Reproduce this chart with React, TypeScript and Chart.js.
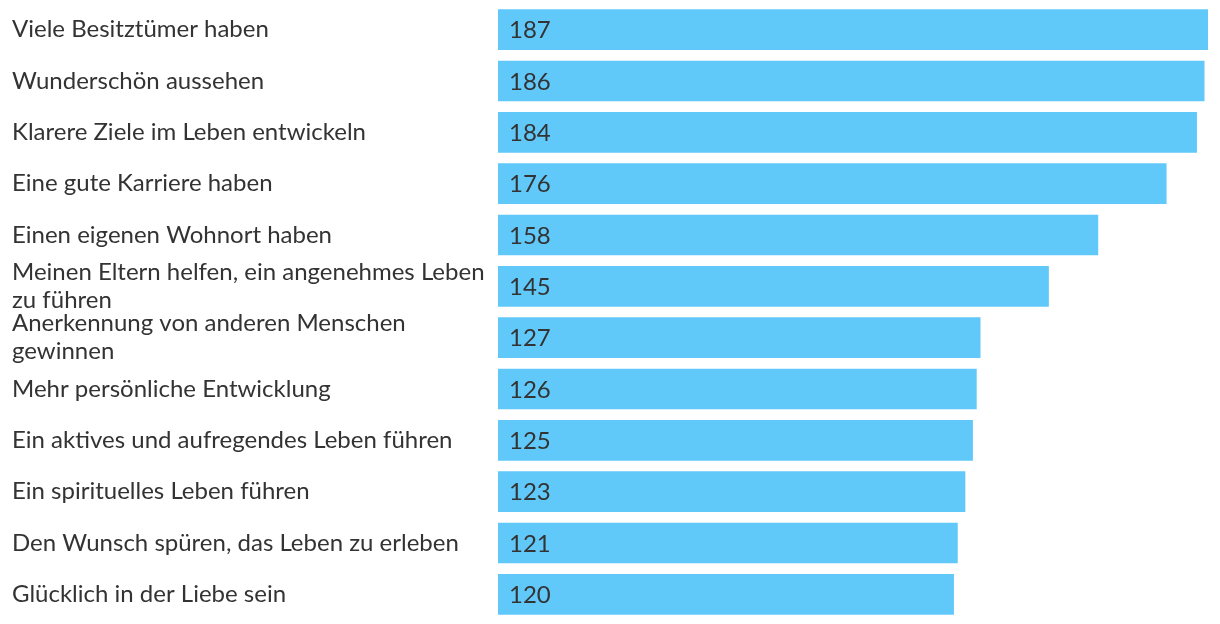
import React, { useEffect, useRef } from "react";
import { Chart, registerables } from "chart.js";

Chart.register(...registerables);

const categories: (string | string[])[] = [
  "Viele Besitztümer haben",
  "Wunderschön aussehen",
  "Klarere Ziele im Leben entwickeln",
  "Eine gute Karriere haben",
  "Einen eigenen Wohnort haben",
  ["Meinen Eltern helfen, ein angenehmes Leben", "zu führen"],
  ["Anerkennung von anderen Menschen", "gewinnen"],
  "Mehr persönliche Entwicklung",
  "Ein aktives und aufregendes Leben führen",
  "Ein spirituelles Leben führen",
  "Den Wunsch spüren, das Leben zu erleben",
  "Glücklich in der Liebe sein",
];

const values: number[] = [187, 186, 184, 176, 158, 145, 127, 126, 125, 123, 121, 120];

const BAR_COLOR = "#61C9FA";
const TEXT_COLOR = "#333333";
const FONT_FAMILY = "Lato, 'Open Sans', sans-serif";

const valueLabelPlugin = {
  id: "valueLabels",
  afterDatasetsDraw(chart: any) {
    const ctx = chart.ctx;
    const meta = chart.getDatasetMeta(0);
    ctx.save();
    ctx.font = `24px ${FONT_FAMILY}`;
    ctx.fillStyle = TEXT_COLOR;
    ctx.textAlign = "left";
    ctx.textBaseline = "middle";
    meta.data.forEach((bar: any, i: number) => {
      const v = chart.data.datasets[0].data[i];
      ctx.fillText(String(v), bar.base + 11, bar.y + 1);
    });
    ctx.restore();
  },
};

export default function App() {
  const canvasRef = useRef<HTMLCanvasElement | null>(null);

  useEffect(() => {
    if (!canvasRef.current) return;
    const chart = new Chart(canvasRef.current, {
      type: "bar",
      data: {
        labels: categories,
        datasets: [
          {
            data: values,
            backgroundColor: BAR_COLOR,
            borderWidth: 0,
            barThickness: 40,
          },
        ],
      },
      options: {
        indexAxis: "y",
        animation: false,
        responsive: true,
        maintainAspectRatio: false,
        layout: { padding: { left: 12, right: 12, top: 4, bottom: 4 } },
        plugins: {
          legend: { display: false },
          tooltip: { enabled: false },
        },
        scales: {
          x: {
            display: false,
            min: 0,
            max: 187,
          },
          y: {
            grid: { display: false, drawTicks: false },
            border: { display: false },
            ticks: {
              crossAlign: "far",
              color: TEXT_COLOR,
              padding: 0,
              font: { family: FONT_FAMILY, size: 24, lineHeight: 1.17 },
              autoSkip: false,
            },
            afterFit(scale: any) {
              scale.width = 486;
              scale.paddingTop = 0;
              scale.paddingBottom = 0;
            },
          },
        },
      },
      plugins: [valueLabelPlugin],
    });
    return () => chart.destroy();
  }, []);

  return (
    <div
      style={{
        position: "fixed",
        left: 0,
        top: 0,
        width: 1220,
        height: 624,
        background: "#ffffff",
      }}
    >
      <canvas ref={canvasRef} />
    </div>
  );
}
